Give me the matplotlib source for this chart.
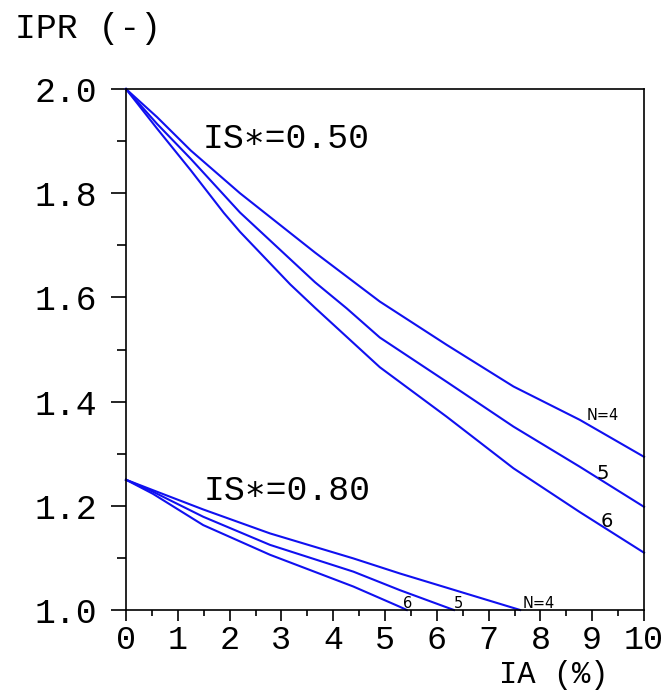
import matplotlib
matplotlib.use("Agg")
import matplotlib.pyplot as plt
from matplotlib.ticker import MultipleLocator, FormatStrFormatter

# IS*=0.50 curves
x_050_n4 = [0, 0.6, 1.25, 2.2, 3.65, 4.9, 6.19, 7.48, 8.76, 10]
y_050_n4 = [2.0, 1.946, 1.882, 1.800, 1.686, 1.592, 1.509, 1.429, 1.365, 1.294]
x_050_n5 = [0, 0.6, 1.25, 2.2, 3.65, 4.26, 4.9, 6.19, 7.48, 8.76, 10]
y_050_n5 = [2.0, 1.933, 1.866, 1.763, 1.629, 1.579, 1.523, 1.438, 1.352, 1.275, 1.198]
x_050_n6 = [0, 0.6, 1.25, 1.89, 2.2, 3.17, 3.65, 4.9, 6.19, 7.48, 8.76, 10]
y_050_n6 = [2.0, 1.924, 1.844, 1.762, 1.726, 1.625, 1.580, 1.466, 1.371, 1.272, 1.188, 1.110]

# IS*=0.80 curves
x_080_n4 = [0, 0.52, 1.49, 2.78, 4.39, 5.29, 7.61]
y_080_n4 = [1.25, 1.230, 1.193, 1.147, 1.099, 1.070, 1.0]
x_080_n5 = [0, 0.52, 1.49, 2.78, 4.39, 5.29, 6.33]
y_080_n5 = [1.25, 1.227, 1.179, 1.125, 1.0736, 1.038, 1.0]
x_080_n6 = [0, 0.52, 1.49, 2.78, 4.39, 5.29, 5.42]
y_080_n6 = [1.25, 1.223, 1.163, 1.106, 1.045, 1.006, 1.0]

mono = ['Liberation Mono', 'DejaVu Sans Mono']
big = 25

fig = plt.figure(figsize=(6.67, 6.90), dpi=100)
ax = fig.add_axes([126/667, 80/690, 518/667, 521/690])

lc = '#1010f0'
lw = 1.5
for xs, ys in [(x_050_n4, y_050_n4), (x_050_n5, y_050_n5), (x_050_n6, y_050_n6),
               (x_080_n4, y_080_n4), (x_080_n5, y_080_n5), (x_080_n6, y_080_n6)]:
    ax.plot(xs, ys, color=lc, lw=lw, clip_on=False)

ax.set_xlim(0, 10)
ax.set_ylim(1.0, 2.0)
ax.xaxis.set_major_locator(MultipleLocator(1))
ax.xaxis.set_minor_locator(MultipleLocator(0.5))
ax.yaxis.set_major_locator(MultipleLocator(0.2))
ax.yaxis.set_minor_locator(MultipleLocator(0.1))
ax.yaxis.set_major_formatter(FormatStrFormatter('%.1f'))
ax.xaxis.set_major_formatter(FormatStrFormatter('%d'))

for s in ax.spines.values():
    s.set_linewidth(1.2)
ax.tick_params(axis='y', which='major', direction='out', length=10.5, width=1.2, pad=10)
ax.tick_params(axis='y', which='minor', direction='out', length=6.5, width=1.2)
ax.tick_params(axis='x', which='major', direction='out', length=8, width=1.2, pad=3)
ax.tick_params(axis='x', which='minor', direction='out', length=4.5, width=1.2)
for lab in ax.get_yticklabels():
    lab.set_family(mono)
    lab.set_fontsize(big)
for lab in ax.get_xticklabels():
    lab.set_family(mono)
    lab.set_fontsize(24)

# axis titles
fig.text(15/667, 1 - 38/690, 'IPR (-)', family=mono, fontsize=big, va='baseline', ha='left')
fig.text(554/667, 7/690, 'IA (%)', family=mono, fontsize=22, va='baseline', ha='center')

# group labels
ax.text(1.47, 1.887, 'IS\u2217=0.50', family=mono, fontsize=big, va='baseline', ha='left')
ax.text(1.49, 1.211, 'IS\u2217=0.80', family=mono, fontsize=big, va='baseline', ha='left')

# curve labels
ax.text(8.90, 1.365, 'N=4', fontsize=10.5, va='baseline', ha='left')
ax.text(9.09, 1.251, '5', fontsize=14, va='baseline', ha='left')
ax.text(9.16, 1.160, '6', fontsize=14, va='baseline', ha='left')
ax.text(5.34, 1.003, '6', fontsize=10.5, va='baseline', ha='left')
ax.text(6.33, 1.003, '5', fontsize=10.5, va='baseline', ha='left')
ax.text(7.66, 1.003, 'N=4', fontsize=10.5, va='baseline', ha='left')

fig.savefig('out.png', dpi=100)
